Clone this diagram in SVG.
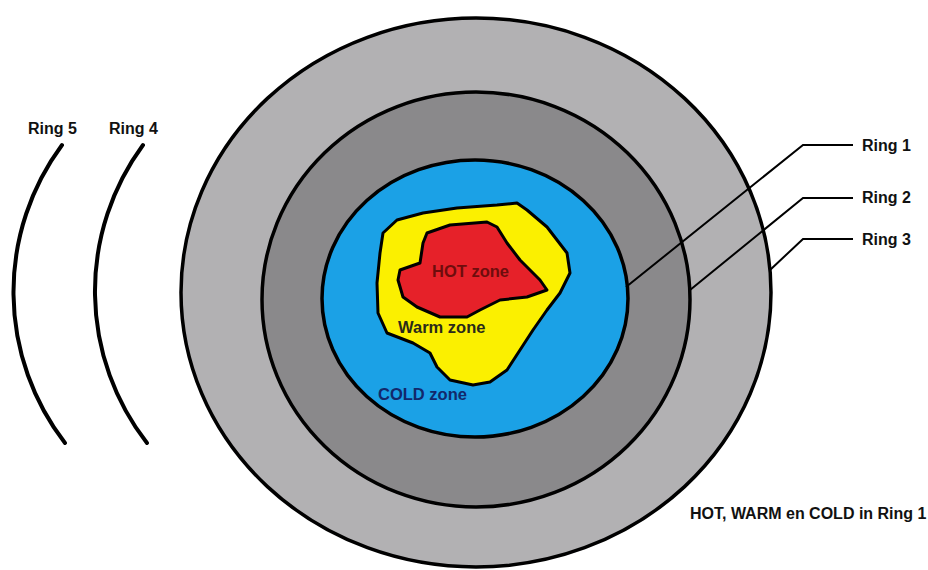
<svg xmlns="http://www.w3.org/2000/svg" width="928" height="570" viewBox="0 0 928 570">
<style>
.ring{stroke:#000;stroke-width:3.5}
.arc{fill:none;stroke:#000;stroke-width:4;stroke-linecap:round}
.lead{fill:none;stroke:#000;stroke-width:2}
.lbl{font-family:"Liberation Sans",Arial,sans-serif;font-weight:bold;font-size:16px;fill:#111}
.zone{font-family:"Liberation Sans",Arial,sans-serif;font-weight:bold;font-size:16.5px}
.blob{stroke:#000;stroke-width:3;stroke-linejoin:round}
</style>
<rect width="928" height="570" fill="#fff"/>
<g id="ring3"><ellipse class="ring" cx="476" cy="292.5" rx="295" ry="274.5" fill="#b2b1b3"/></g>
<g id="ring2"><ellipse class="ring" cx="476" cy="299.5" rx="214" ry="207.5" fill="#8a898b"/></g>
<g id="ring1"><ellipse class="ring" cx="475" cy="298.5" rx="153" ry="138.5" fill="#1ba1e6"/></g>
<g id="warm-zone">
<path class="blob" fill="#fbf000" d="M397,220 L423,213 L457,208 L497,205 L517,203 L527,210 L547,227 L567,253 L570,273 L560,293 L547,310 L533,330 L520,350 L507,370 L490,382 L473,385 L450,380 L437,367 L430,353 L413,343 L387,333 L378,313 L377,283 L380,253 L383,233 Z"/>
<text class="zone" x="398" y="333" fill="#2a2a1a">Warm zone</text>
</g>
<g id="hot-zone">
<path class="blob" fill="#e62129" d="M427,233 L450,225 L487,222 L497,227 L507,243 L520,260 L540,280 L547,290 L527,297 L500,300 L480,310 L467,317 L440,317 L417,307 L403,297 L398,280 L400,270 L420,263 L423,243 Z"/>
<text class="zone" x="432" y="277" fill="#6e0d0d">HOT zone</text>
</g>
<g id="cold-zone"><text class="zone" x="378" y="400" fill="#12286b">COLD zone</text></g>
<g id="ring5"><path class="arc" d="M62,145 A247,247 0 0 0 65,443"/><text class="lbl" x="28" y="134">Ring 5</text></g>
<g id="ring4"><path class="arc" d="M143,145 A247,247 0 0 0 147,443"/><text class="lbl" x="109" y="134">Ring 4</text></g>
<g id="connectors">
<path class="lead" d="M626,287 L803,145 L853,145"/>
<path class="lead" d="M690,290 L803,198 L853,198"/>
<path class="lead" d="M770,270 L803,239 L853,239"/>
</g>
<g id="label-ring1"><text class="lbl" x="862" y="151">Ring 1</text></g>
<g id="label-ring2"><text class="lbl" x="862" y="203">Ring 2</text></g>
<g id="label-ring3"><text class="lbl" x="862" y="245">Ring 3</text></g>
<g id="label-note"><text class="lbl" x="690" y="519">HOT, WARM en COLD in Ring 1</text></g>
</svg>
